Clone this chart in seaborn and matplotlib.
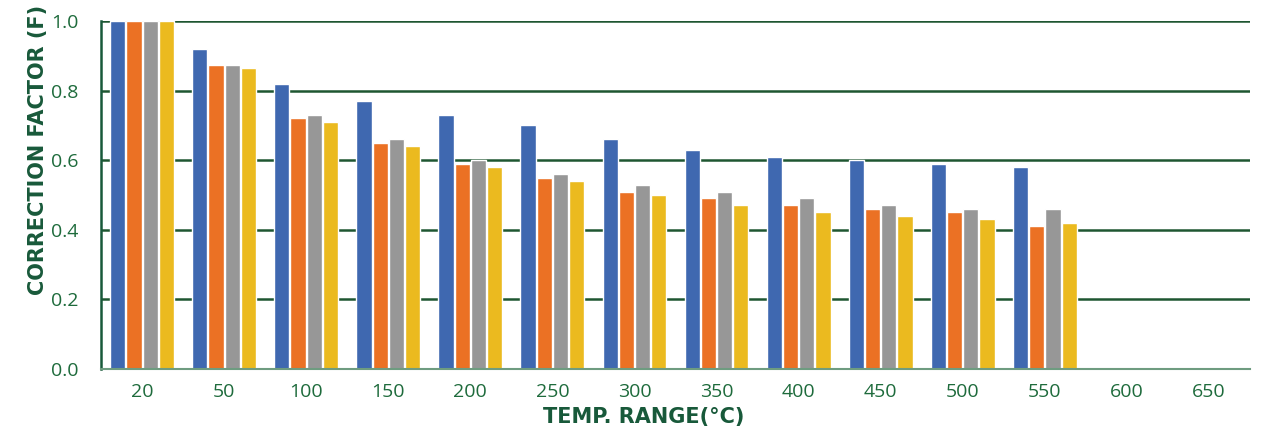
import numpy as np
import pandas as pd
import matplotlib
matplotlib.use("Agg")
import matplotlib.pyplot as plt
import seaborn as sns

# ------------------------------------------------ data ------------------------------------------------
temps = ["20", "50", "100", "150", "200", "250", "300", "350", "400", "450", "500", "550", "600", "650"]
series = ["Series 1", "Series 2", "Series 3", "Series 4"]

s1 = [1.00, 0.92, 0.82, 0.77, 0.73, 0.70, 0.66, 0.63, 0.61, 0.60, 0.59, 0.58, np.nan, np.nan]
s2 = [1.00, 0.875, 0.72, 0.65, 0.59, 0.55, 0.51, 0.49, 0.47, 0.46, 0.45, 0.41, np.nan, np.nan]
s3 = [1.00, 0.875, 0.73, 0.66, 0.60, 0.56, 0.53, 0.51, 0.49, 0.47, 0.46, 0.46, np.nan, np.nan]
s4 = [1.00, 0.865, 0.71, 0.64, 0.58, 0.54, 0.50, 0.47, 0.45, 0.44, 0.43, 0.42, np.nan, np.nan]

yticks = [0.0, 0.2, 0.4, 0.6, 0.8, 1.0]

colors = ["#3F68B0", "#EB7124", "#979797", "#EBBA1F"]
green = "#18593A"

# ------------------------------------------------ long format ------------------------------------------
df = pd.DataFrame({"Temp": temps, series[0]: s1, series[1]: s2, series[2]: s3, series[3]: s4})
df_long = df.melt(id_vars="Temp", var_name="Series", value_name="F")

# ------------------------------------------------ plot -------------------------------------------------
sns.set_style("white")
plt.rcParams["font.family"] = ["Open Sans", "DejaVu Sans"]

fig = plt.figure(figsize=(12.64, 4.37), dpi=100)
ax = fig.add_axes([101 / 1264, 68 / 437, 1149 / 1264, 348 / 437])

sns.barplot(data=df_long, x="Temp", y="F", hue="Series", order=temps, hue_order=series,
            palette=colors, width=0.79, gap=0.06, saturation=1, legend=False, ax=ax)

ax.set_ylim(0, 1.0)
ax.set_xlim(-0.5, len(temps) - 0.5)
ax.set_yticks(yticks)
ax.set_yticklabels([f"{v:.1f}" for v in yticks])
ax.set_axisbelow(True)
ax.grid(axis="y", color="#1E5631", linewidth=1.8)
ax.grid(axis="x", visible=False)

for side in ["top", "right"]:
    ax.spines[side].set_visible(False)
ax.spines["left"].set_color(green)
ax.spines["left"].set_linewidth(1.8)
ax.spines["bottom"].set_color("#6E9C80")
ax.spines["bottom"].set_linewidth(1.5)

ax.tick_params(axis="both", length=0, labelsize=14, labelcolor="#1E6B3C")
ax.tick_params(axis="y", pad=16)
ax.tick_params(axis="x", pad=10)

lbl_font = dict(family="DejaVu Sans", fontsize=15, fontweight="bold", color=green)
ax.set_xlabel("TEMP. RANGE(°C)", **lbl_font)
ax.set_ylabel("CORRECTION FACTOR (F)", **lbl_font)
ax.xaxis.set_label_coords(0.472, -0.11)
ax.yaxis.set_label_coords(-0.046, 0.63)

fig.savefig("out.png", dpi=100)
